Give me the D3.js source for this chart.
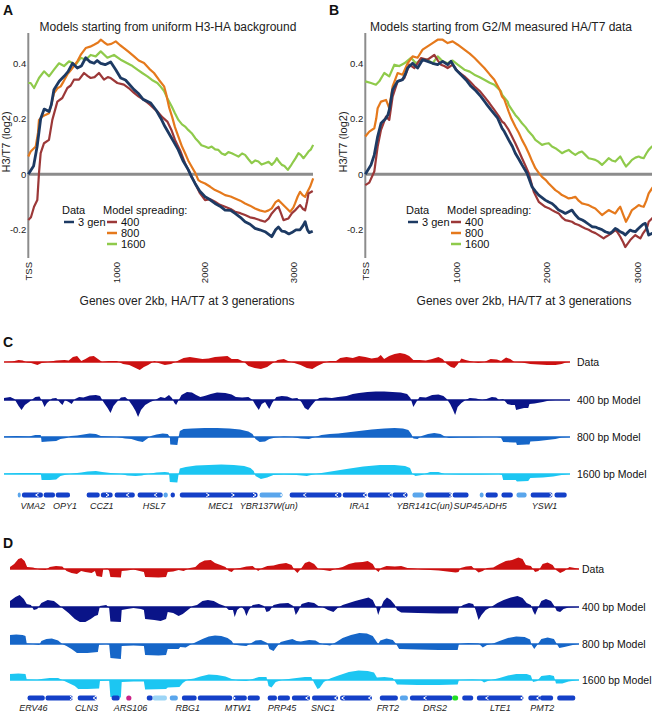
<!DOCTYPE html>
<html><head><meta charset="utf-8">
<script src="https://cdn.jsdelivr.net/npm/d3@7"></script>
<style>body{margin:0;background:#fff} svg{display:block;font-family:"Liberation Sans",Arial,sans-serif}</style>
</head><body><svg id="c" width="652" height="714"></svg>
<script>
// ---------- Panels A/B: profile data ([position from TSS (bp), H3/T7 log2]) ----------
const A_data=[[0,0],[60,0.03],[100,0.1],[140,0.2],[180,0.235],[235,0.226],[260,0.25],[290,0.305],[350,0.335],[405,0.353],[450,0.37],[500,0.40],[555,0.383],[600,0.39],[650,0.42],[700,0.405],[745,0.40],[780,0.41],[820,0.40],[870,0.395],[933,0.405],[990,0.377],[1046,0.347],[1100,0.34],[1197,0.305],[1250,0.29],[1300,0.27],[1386,0.257],[1450,0.23],[1500,0.202],[1547,0.172],[1612,0.136],[1650,0.115],[1698,0.088],[1750,0.05],[1812,0.016],[1850,-0.01],[1888,-0.033],[1940,-0.06],[2001,-0.081],[2050,-0.09],[2114,-0.105],[2170,-0.115],[2228,-0.129],[2290,-0.13],[2341,-0.141],[2400,-0.155],[2454,-0.171],[2510,-0.18],[2567,-0.195],[2620,-0.2],[2680,-0.207],[2756,-0.225],[2800,-0.2],[2832,-0.19],[2870,-0.205],[2907,-0.207],[2950,-0.215],[2983,-0.21],[3030,-0.2],[3077,-0.2],[3110,-0.185],[3134,-0.171],[3160,-0.2],[3179,-0.21],[3220,-0.205]];
const A_m400=[[0,-0.165],[30,-0.155],[65,-0.117],[102,-0.093],[121,0.004],[140,0.076],[178,0.112],[234,0.124],[272,0.196],[329,0.262],[385,0.275],[442,0.311],[480,0.32],[517,0.341],[574,0.341],[631,0.365],[670,0.355],[706,0.347],[750,0.35],[800,0.365],[857,0.341],[900,0.35],[933,0.347],[1008,0.329],[1083,0.323],[1140,0.31],[1197,0.293],[1250,0.28],[1310,0.268],[1380,0.25],[1461,0.226],[1520,0.205],[1574,0.19],[1620,0.16],[1661,0.124],[1720,0.085],[1774,0.04],[1820,0.01],[1868,-0.02],[1944,-0.069],[2001,-0.093],[2060,-0.09],[2114,-0.099],[2170,-0.11],[2228,-0.117],[2290,-0.125],[2341,-0.135],[2400,-0.14],[2454,-0.147],[2510,-0.155],[2567,-0.159],[2620,-0.165],[2680,-0.171],[2720,-0.16],[2756,-0.141],[2800,-0.125],[2832,-0.117],[2860,-0.14],[2889,-0.165],[2945,-0.159],[2985,-0.14],[3020,-0.13],[3050,-0.12],[3077,-0.111],[3110,-0.125],[3134,-0.13],[3155,-0.1],[3172,-0.069],[3220,-0.06]];
const A_m800=[[0,0.064],[27,0.082],[84,0.1],[110,0.15],[121,0.196],[159,0.208],[200,0.215],[234,0.22],[260,0.25],[291,0.293],[330,0.31],[367,0.317],[400,0.335],[442,0.36],[480,0.375],[517,0.39],[560,0.41],[593,0.43],[650,0.455],[700,0.46],[744,0.467],[790,0.475],[820,0.485],[860,0.475],[895,0.467],[940,0.47],[990,0.479],[1040,0.465],[1083,0.455],[1140,0.44],[1197,0.425],[1250,0.41],[1310,0.401],[1370,0.38],[1423,0.365],[1480,0.34],[1537,0.317],[1560,0.29],[1595,0.24],[1630,0.205],[1660,0.17],[1699,0.136],[1740,0.1],[1775,0.076],[1810,0.05],[1850,0.027],[1890,0.005],[1925,-0.021],[1960,-0.028],[2001,-0.033],[2060,-0.045],[2114,-0.057],[2170,-0.065],[2228,-0.075],[2290,-0.08],[2341,-0.087],[2400,-0.095],[2454,-0.105],[2510,-0.113],[2567,-0.123],[2620,-0.13],[2680,-0.135],[2720,-0.13],[2756,-0.123],[2800,-0.1],[2832,-0.093],[2870,-0.105],[2907,-0.117],[2964,-0.135],[3000,-0.12],[3020,-0.105],[3050,-0.08],[3077,-0.063],[3105,-0.075],[3134,-0.081],[3165,-0.06],[3190,-0.045],[3225,-0.015]];
const A_m1600=[[0,0.329],[27,0.329],[65,0.311],[121,0.347],[178,0.371],[234,0.353],[291,0.377],[348,0.4],[404,0.39],[461,0.407],[537,0.395],[593,0.42],[650,0.413],[706,0.43],[763,0.425],[820,0.443],[895,0.42],[970,0.43],[1046,0.413],[1121,0.4],[1180,0.39],[1235,0.377],[1290,0.365],[1348,0.353],[1400,0.34],[1461,0.329],[1500,0.315],[1537,0.3],[1580,0.27],[1624,0.244],[1660,0.22],[1699,0.196],[1740,0.18],[1775,0.172],[1810,0.16],[1850,0.148],[1890,0.13],[1925,0.118],[1960,0.105],[2001,0.1],[2040,0.095],[2076,0.1],[2115,0.09],[2152,0.088],[2190,0.075],[2228,0.07],[2265,0.08],[2303,0.076],[2340,0.07],[2379,0.064],[2420,0.075],[2454,0.07],[2490,0.055],[2530,0.04],[2570,0.05],[2605,0.046],[2640,0.035],[2680,0.04],[2720,0.045],[2756,0.034],[2790,0.045],[2813,0.058],[2840,0.045],[2870,0.034],[2900,0.03],[2938,0.016],[2970,0.03],[3001,0.046],[3030,0.06],[3058,0.076],[3085,0.07],[3115,0.058],[3145,0.07],[3172,0.082],[3200,0.09],[3225,0.106]];

const B_data=[[0,0],[63,0.034],[99,0.07],[136,0.136],[173,0.184],[228,0.202],[250,0.215],[264,0.232],[301,0.305],[356,0.335],[411,0.341],[440,0.36],[466,0.383],[521,0.40],[576,0.383],[631,0.413],[686,0.407],[741,0.40],[797,0.395],[852,0.407],[907,0.395],[944,0.407],[999,0.377],[1054,0.359],[1110,0.34],[1164,0.317],[1220,0.3],[1274,0.28],[1330,0.255],[1384,0.232],[1458,0.202],[1506,0.166],[1531,0.154],[1579,0.124],[1620,0.1],[1652,0.076],[1690,0.055],[1726,0.034],[1781,0.004],[1836,-0.045],[1870,-0.06],[1910,-0.075],[1950,-0.085],[1982,-0.093],[2020,-0.1],[2056,-0.105],[2090,-0.115],[2130,-0.129],[2170,-0.135],[2203,-0.141],[2240,-0.135],[2276,-0.129],[2310,-0.145],[2350,-0.159],[2390,-0.165],[2423,-0.171],[2460,-0.18],[2497,-0.189],[2535,-0.19],[2570,-0.195],[2610,-0.2],[2643,-0.207],[2698,-0.213],[2725,-0.205],[2753,-0.195],[2780,-0.2],[2808,-0.207],[2840,-0.212],[2863,-0.219],[2890,-0.21],[2918,-0.201],[2945,-0.205],[2974,-0.207],[3000,-0.198],[3029,-0.189],[3060,-0.18],[3084,-0.177],[3105,-0.2],[3121,-0.219],[3157,-0.213],[3200,-0.21]];
const B_m400=[[0,-0.039],[44,-0.03],[99,0.01],[136,0.1],[173,0.16],[228,0.208],[264,0.196],[301,0.28],[356,0.335],[400,0.34],[430,0.347],[485,0.395],[540,0.383],[613,0.419],[686,0.413],[760,0.43],[800,0.41],[833,0.395],[870,0.39],[907,0.383],[962,0.395],[1018,0.371],[1091,0.353],[1150,0.335],[1201,0.317],[1260,0.3],[1311,0.28],[1370,0.255],[1421,0.232],[1470,0.21],[1506,0.19],[1531,0.184],[1579,0.16],[1610,0.14],[1652,0.112],[1690,0.085],[1726,0.058],[1765,0.03],[1800,0.004],[1855,-0.063],[1910,-0.099],[1982,-0.117],[2020,-0.122],[2056,-0.129],[2090,-0.135],[2130,-0.141],[2165,-0.155],[2203,-0.165],[2240,-0.168],[2276,-0.171],[2310,-0.178],[2350,-0.183],[2390,-0.19],[2423,-0.195],[2460,-0.2],[2497,-0.207],[2535,-0.212],[2570,-0.219],[2625,-0.231],[2650,-0.225],[2680,-0.219],[2720,-0.21],[2753,-0.201],[2780,-0.21],[2808,-0.225],[2840,-0.245],[2863,-0.262],[2890,-0.25],[2918,-0.237],[2945,-0.228],[2974,-0.219],[3000,-0.225],[3029,-0.231],[3055,-0.215],[3084,-0.201],[3105,-0.19],[3121,-0.171],[3157,-0.159],[3200,-0.15]];
const B_m800=[[0,0.136],[44,0.154],[99,0.166],[120,0.2],[136,0.238],[173,0.262],[228,0.268],[250,0.25],[264,0.238],[301,0.317],[356,0.365],[411,0.359],[466,0.40],[521,0.425],[576,0.42],[631,0.449],[686,0.461],[741,0.473],[797,0.485],[852,0.485],[907,0.473],[962,0.479],[1018,0.467],[1091,0.449],[1150,0.435],[1201,0.42],[1260,0.4],[1311,0.383],[1370,0.36],[1421,0.341],[1480,0.305],[1506,0.28],[1531,0.27],[1579,0.226],[1610,0.2],[1652,0.172],[1690,0.15],[1726,0.124],[1765,0.1],[1800,0.076],[1840,0.045],[1873,0.022],[1910,0.005],[1946,-0.009],[1985,-0.02],[2020,-0.033],[2056,-0.045],[2093,-0.057],[2130,-0.065],[2166,-0.075],[2200,-0.08],[2240,-0.087],[2276,-0.085],[2313,-0.081],[2350,-0.095],[2386,-0.105],[2423,-0.108],[2460,-0.111],[2497,-0.118],[2533,-0.123],[2570,-0.135],[2607,-0.147],[2643,-0.138],[2680,-0.129],[2715,-0.135],[2753,-0.141],[2780,-0.128],[2808,-0.117],[2840,-0.145],[2871,-0.171],[2905,-0.15],[2937,-0.129],[2975,-0.12],[3011,-0.111],[3040,-0.115],[3066,-0.117],[3095,-0.095],[3121,-0.069],[3157,-0.051],[3200,-0.03]];
const B_m1600=[[0,0.335],[63,0.329],[117,0.323],[154,0.335],[209,0.365],[264,0.353],[320,0.395],[375,0.39],[430,0.40],[503,0.42],[558,0.40],[613,0.413],[686,0.413],[741,0.40],[797,0.425],[852,0.407],[907,0.40],[962,0.41],[1018,0.395],[1091,0.377],[1150,0.37],[1201,0.359],[1260,0.35],[1311,0.341],[1370,0.33],[1421,0.323],[1494,0.299],[1506,0.287],[1568,0.262],[1579,0.25],[1615,0.232],[1652,0.214],[1690,0.2],[1726,0.184],[1765,0.17],[1800,0.154],[1840,0.14],[1873,0.124],[1910,0.115],[1946,0.106],[1985,0.11],[2020,0.112],[2056,0.1],[2093,0.094],[2130,0.085],[2166,0.076],[2200,0.082],[2240,0.088],[2276,0.078],[2313,0.07],[2350,0.078],[2386,0.082],[2423,0.07],[2460,0.058],[2497,0.055],[2533,0.052],[2570,0.045],[2607,0.034],[2643,0.045],[2680,0.058],[2715,0.05],[2753,0.046],[2780,0.055],[2808,0.064],[2840,0.045],[2871,0.028],[2905,0.04],[2937,0.052],[2975,0.06],[3011,0.064],[3040,0.06],[3066,0.058],[3095,0.075],[3121,0.088],[3157,0.1],[3200,0.11]];

const profTitles=["Models starting from uniform H3-HA background","Models starting from G2/M measured HA/T7 data"];
const yTickVals=[-0.2,0,0.2,0.4];
const yTickLabels=["-0.2","0","0.2","0.4"];
const xTickVals=[0,1000,2000,3000];
const xTickLabels=["TSS","1000","2000","3000"];
const seriesLabels=["3 gen","400","800","1600"];

// ---------- Panels C/D: tracks ([genomic position (a.u.), log ratio]) ----------
const C_data=[[10,0],[30,0.05],[45,0.2],[55,0.15],[65,-0.05],[75,-0.1],[90,-0.3],[100,-0.1],[115,0],[135,0.15],[155,0.2],[165,0.15],[175,0.5],[185,0.6],[195,0.1],[205,0.3],[215,0.55],[225,0.6],[235,0.3],[245,0],[260,0.1],[280,0.1],[295,-0.2],[310,-0.3],[325,-0.6],[335,-0.8],[345,-0.5],[355,-0.3],[370,0.1],[380,-0.1],[395,-0.3],[410,-0.2],[425,0.1],[440,0.4],[455,0.5],[470,0.4],[485,0.3],[500,0.35],[515,0.5],[530,0.55],[545,0.6],[555,0.3],[570,0.3],[585,0],[595,-0.4],[610,-0.6],[625,-0.7],[640,-0.5],[650,-0.2],[665,0.2],[680,0.3],[690,0.1],[705,-0.1],[720,-0.3],[735,-0.6],[748,-0.7],[760,-0.4],[775,-0.1],[790,0.1],[805,0.1],[815,0.4],[830,0.5],[845,0.4],[860,0.6],[875,0.5],[890,0.35],[905,0.45],[912,0.7],[920,0.3],[932,0.6],[945,0.8],[958,0.9],[970,0.8],[980,0.6],[990,0.2],[1005,0.2],[1020,0.15],[1035,0.3],[1050,0.5],[1060,0.3],[1070,-0.2],[1080,-0.5],[1088,-0.6],[1095,-0.3],[1105,0.35],[1115,0.2],[1130,0.05],[1145,-0.1],[1160,0],[1175,0.3],[1190,0.25],[1200,0.1],[1212,0.45],[1222,0.3],[1232,0],[1250,-0.05],[1270,-0.2],[1290,-0.25],[1310,-0.3],[1330,-0.3],[1345,-0.2],[1355,-0.05],[1365,0]];
const C_m400=[[10,0.2],[25,0.3],[35,0.1],[45,-0.6],[52,-1.0],[60,-0.5],[70,-0.2],[85,0.3],[95,0.35],[102,-0.2],[107,-0.7],[113,-0.3],[125,0.15],[135,0.2],[145,-0.3],[150,-0.5],[156,0],[165,-0.2],[172,-0.4],[180,0.1],[190,0.3],[200,0.25],[215,0.45],[230,0.5],[240,0.4],[248,-0.2],[258,-0.8],[265,-1.3],[272,-0.6],[280,-0.2],[290,0.25],[300,0.3],[308,0],[318,-0.6],[325,-1.1],[331,-1.7],[338,-1.0],[348,-0.5],[360,-0.2],[372,0],[385,0.3],[395,0.2],[405,0.5],[412,0.2],[418,-0.3],[422,-0.5],[427,-0.1],[435,0.5],[448,0.8],[460,0.75],[470,0.5],[480,0.3],[490,0.4],[505,0.6],[520,0.75],[540,0.7],[555,0.55],[565,0.3],[580,0.25],[595,0.3],[605,0],[612,-0.5],[620,-1.0],[627,-0.4],[635,-0.2],[645,-0.9],[652,-0.3],[662,0.3],[675,0.4],[688,0.35],[700,0.15],[712,0.2],[722,-0.2],[730,-0.8],[738,-1.0],[745,-0.6],[755,-0.1],[765,0.2],[780,0.25],[795,0.2],[810,0.3],[830,0.4],[845,0.6],[860,0.7],[880,0.8],[900,0.85],[920,0.85],[940,0.8],[960,0.75],[975,0.6],[983,0.2],[990,-0.7],[997,-0.2],[1005,0.3],[1020,0.25],[1035,0.5],[1050,0.55],[1062,0.4],[1070,0.1],[1078,-0.4],[1085,-1.0],[1090,-1.5],[1096,-0.7],[1105,-0.3],[1115,0],[1125,0.2],[1140,0.15],[1155,0],[1165,0.1],[1178,0.3],[1188,0.25],[1195,0],[1205,0.1],[1215,-0.4],[1225,-0.5],[1233,-0.5],[1236,-1.0],[1245,-0.9],[1255,-0.8],[1265,-0.8],[1268,-0.4],[1280,-0.35],[1300,-0.2],[1315,-0.05],[1330,0],[1365,0]];
const C_m800=[[10,0.05],[40,0.1],[70,0.05],[85,0.2],[98,0.2],[100,-0.5],[115,-0.45],[135,-0.4],[145,-0.2],[160,-0.1],[170,0.1],[185,0.15],[200,0.25],[215,0.35],[230,0.3],[242,0.1],[260,0.05],[280,0],[300,-0.15],[315,-0.2],[330,-0.4],[342,-0.5],[352,-0.2],[362,0.1],[375,0.25],[390,0.35],[402,0.3],[407,0],[408,-0.75],[425,-0.8],[428,0],[431,0.6],[440,0.8],[460,0.85],[490,0.9],[520,0.9],[550,0.85],[575,0.75],[595,0.55],[605,0.3],[612,-0.2],[622,-0.5],[635,-0.45],[645,-0.2],[660,-0.05],[680,0.05],[700,0],[720,-0.15],[740,-0.2],[755,0],[770,0.2],[790,0.3],[810,0.35],[830,0.45],[860,0.6],[890,0.75],[920,0.85],[945,0.9],[965,0.85],[978,0.7],[985,0.3],[990,-0.15],[1000,-0.2],[1010,0.1],[1025,0.3],[1040,0.4],[1055,0.3],[1065,0.05],[1075,-0.1],[1100,-0.05],[1130,-0.05],[1160,0],[1190,0],[1200,-0.1],[1205,-0.5],[1230,-0.55],[1236,-0.55],[1238,-0.8],[1262,-0.75],[1268,-0.75],[1270,-0.45],[1290,-0.4],[1310,-0.3],[1330,-0.2],[1345,-0.05],[1365,0]];
const C_m1600=[[10,0.05],[50,0.1],[90,0.1],[98,0.1],[100,-0.6],[120,-0.6],[135,-0.55],[145,-0.2],[160,-0.05],[175,0.05],[195,0.15],[210,0.25],[230,0.3],[245,0.2],[265,0.1],[290,0],[305,-0.15],[325,-0.2],[340,-0.15],[355,0],[375,0.15],[395,0.2],[405,0.15],[407,-0.8],[425,-0.85],[428,0],[431,0.55],[445,0.7],[470,0.85],[500,0.9],[530,0.95],[560,0.9],[585,0.8],[600,0.6],[608,0.3],[612,-0.2],[625,-0.5],[640,-0.35],[655,-0.1],[680,-0.05],[710,-0.1],[735,-0.2],[750,-0.05],[770,0.1],[800,0.3],[830,0.5],[870,0.75],[910,0.9],[945,0.9],[970,0.8],[982,0.6],[988,0],[995,-0.2],[1010,-0.1],[1030,0.2],[1050,0.2],[1065,0],[1100,-0.05],[1150,-0.05],[1195,0],[1202,-0.1],[1205,-0.6],[1235,-0.6],[1238,-0.75],[1265,-0.7],[1270,-0.4],[1300,-0.35],[1325,-0.25],[1345,-0.1],[1365,0]];

const D_data=[[25,0.2],[35,0.5],[45,1.0],[52,1.1],[60,0.8],[66,0.2],[80,0.15],[95,-0.05],[110,-0.1],[120,0.2],[135,0.3],[150,0.25],[160,-0.2],[172,-0.4],[185,-0.5],[195,-0.2],[205,-0.3],[220,-0.4],[228,-0.2],[232,-0.7],[245,-0.8],[248,0],[258,0.05],[262,-0.2],[265,-0.8],[290,-0.85],[292,-0.2],[305,-0.15],[320,-0.05],[335,-0.2],[345,-0.3],[348,-0.8],[380,-0.85],[398,-0.8],[402,-0.3],[415,-0.25],[428,-0.1],[440,-0.2],[455,0.1],[468,0.2],[478,0.6],[490,0.85],[505,0.9],[515,0.6],[528,0.4],[540,0.2],[548,-0.2],[555,-0.3],[562,0],[575,0.1],[590,0.25],[605,0.3],[618,-0.2],[628,0.1],[640,0.3],[655,0.35],[668,0.5],[685,0.6],[698,0.4],[705,-0.1],[712,-0.4],[720,0],[730,0.6],[740,0.75],[752,0.5],[762,0],[775,-0.1],[790,-0.2],[805,0.05],[820,0.2],[835,0.5],[850,0.65],[868,0.7],[880,0.8],[892,0.5],[900,-0.1],[906,-0.3],[912,0.1],[925,0.3],[945,0.25],[960,0.3],[975,0.1],[990,0.05],[1010,-0.05],[1030,-0.1],[1050,-0.15],[1070,-0.25],[1090,-0.35],[1097,-0.3],[1102,0.1],[1115,0.25],[1128,0.3],[1135,0],[1145,-0.35],[1155,-0.2],[1165,0.1],[1180,0.15],[1195,0.5],[1210,0.8],[1225,0.9],[1240,1.15],[1250,1.0],[1258,0.4],[1270,0.3],[1280,-0.3],[1288,-0.2],[1298,0.5],[1310,0.65],[1322,0.4],[1330,-0.1],[1340,-0.4],[1350,-0.2],[1362,0.2],[1375,0.1],[1385,0]];
const D_m400=[[25,0.6],[38,1.0],[48,1.2],[58,0.8],[65,0.3],[75,0.2],[82,-0.3],[90,-0.2],[100,0.4],[115,0.7],[130,0.6],[142,0.2],[150,-0.1],[165,-0.6],[180,-1.2],[192,-1.5],[205,-1.5],[218,-1.2],[228,-0.9],[235,-0.8],[240,0.1],[255,0.2],[262,-0.1],[265,-1.45],[290,-1.5],[292,-0.3],[305,-0.2],[320,-0.1],[338,-0.2],[345,-0.3],[348,-1.2],[370,-1.3],[385,-1.4],[398,-1.2],[402,-0.5],[415,-0.6],[428,-0.9],[438,-0.7],[450,-0.3],[462,0.1],[472,0.2],[485,0.6],[498,0.7],[512,0.6],[525,0.3],[538,0.1],[548,-0.3],[558,-0.3],[562,-1.0],[568,-0.3],[578,0.05],[585,-0.3],[590,-0.9],[596,-0.3],[605,0.2],[620,0.3],[632,0.1],[638,-0.5],[645,-0.4],[655,0.2],[670,0.35],[690,0.4],[702,0.1],[708,-0.8],[714,-0.4],[722,0.3],[738,0.5],[752,0.4],[762,0.1],[772,0],[785,-0.3],[798,-0.5],[808,-0.1],[820,0.2],[835,0.4],[850,0.6],[868,0.8],[882,0.95],[892,0.7],[900,0],[905,-0.8],[910,-0.2],[918,0.6],[926,0.95],[935,0.7],[945,0.2],[950,-0.3],[960,-0.55],[1000,-0.6],[1050,-0.65],[1095,-0.65],[1098,-0.1],[1108,0.2],[1122,0.4],[1132,0.3],[1138,-0.3],[1145,-1.3],[1152,-0.8],[1162,-0.3],[1175,0],[1190,0.4],[1205,0.7],[1222,0.95],[1238,1.1],[1250,0.9],[1260,0.4],[1270,0.2],[1275,-0.4],[1280,-0.8],[1286,-0.2],[1295,0.6],[1306,0.8],[1318,0.6],[1326,0.1],[1332,-0.4],[1340,-0.5],[1348,-0.2],[1360,-0.05],[1385,0]];
const D_m800=[[25,0.9],[40,0.95],[55,0.9],[62,0.8],[65,0.05],[80,0],[95,-0.1],[100,0.3],[112,0.5],[125,0.55],[140,0.35],[150,0],[160,-0.2],[172,-0.5],[182,-0.8],[185,-0.9],[210,-0.9],[235,-0.8],[238,-0.05],[255,0],[262,-0.05],[265,-1.4],[290,-1.5],[292,-0.2],[320,-0.15],[345,-0.2],[348,-1.1],[380,-1.15],[398,-1.1],[402,-0.5],[428,-0.5],[432,-0.3],[445,-0.35],[455,-0.1],[470,0.2],[485,0.5],[500,0.75],[515,0.85],[530,0.8],[545,0.6],[555,0.3],[560,-0.05],[575,-0.15],[590,-0.2],[600,0.05],[612,0.35],[625,0.4],[640,0.1],[645,-0.5],[655,-0.7],[662,-0.3],[672,0.2],[685,0.35],[700,0.5],[710,0.3],[720,0.25],[740,0.4],[755,0.35],[765,0.1],[775,-0.05],[790,-0.15],[805,0.2],[820,0.6],[840,0.9],[860,1.1],[878,1.05],[892,0.8],[900,0.3],[905,0],[910,0.35],[925,0.55],[940,0.4],[948,0],[955,-0.5],[1000,-0.55],[1050,-0.6],[1095,-0.6],[1098,0],[1120,0.1],[1145,0.05],[1155,-0.35],[1165,-0.1],[1180,0.05],[1195,0.3],[1215,0.6],[1235,0.75],[1255,0.7],[1268,0.45],[1272,-0.1],[1278,-0.5],[1285,-0.1],[1295,0.5],[1310,0.65],[1325,0.5],[1332,0],[1338,-0.4],[1350,-0.3],[1370,-0.1],[1385,0]];
const D_m1600=[[25,0.6],[45,0.65],[62,0.6],[65,0.05],[90,0],[100,0.1],[120,0.2],[140,0.2],[150,0],[165,-0.3],[180,-0.6],[188,-0.9],[210,-0.9],[238,-0.85],[240,-0.1],[262,-0.05],[265,-1.7],[290,-1.75],[292,-0.2],[320,-0.15],[345,-0.15],[348,-0.95],[398,-0.9],[402,-0.75],[430,-0.7],[438,-0.3],[450,0.05],[465,0.15],[480,0.35],[500,0.55],[520,0.5],[540,0.35],[555,0.1],[570,-0.05],[590,-0.1],[605,0.1],[620,0.3],[638,0.3],[643,-0.6],[650,-0.75],[660,-0.2],[675,0],[700,0.15],[730,0.3],[745,0.3],[752,-0.3],[760,-0.9],[765,-0.8],[775,-0.2],[790,0.15],[810,0.45],[835,0.8],[858,0.95],[880,0.9],[895,0.75],[902,0.25],[920,0.3],[940,0.2],[950,-0.45],[1000,-0.5],[1050,-0.5],[1095,-0.45],[1098,0],[1130,0.05],[1150,0],[1158,-0.25],[1170,-0.05],[1195,0.2],[1215,0.45],[1235,0.6],[1260,0.6],[1270,0.45],[1275,-0.2],[1285,-0.1],[1295,0.4],[1315,0.5],[1325,0.4],[1330,-0.35],[1345,-0.35],[1360,-0.15],[1385,0]];
const trackNames=["Data","400 bp Model","800 bp Model","1600 bp Model"];

// gene annotations [start, end, kind]
const C_genes=[[43,50,'l'],[53,103,'d'],[105,132,'d'],[134,168,'d'],[208,239,'d'],[242,270,'d'],[275,323,'d'],[330,390,'d'],[392,402,'l'],[409,419,'d'],[431,617,'d'],[622,677,'l'],[694,818,'d'],[821,878,'d'],[881,938,'d'],[940,976,'d'],[988,1015,'l'],[1019,1082,'d'],[1084,1122,'d'],[1149,1158,'l'],[1163,1192,'d'],[1201,1228,'d'],[1237,1261,'l'],[1271,1323,'d'],[1328,1357,'d']];
const C_arrows=[[89,'<'],[258,'>'],[306,'<'],[373,'<'],[498,'>'],[558,'>'],[610,'>'],[675,'<'],[730,'<'],[806,'<'],[873,'<'],[933,'<'],[969,'<'],[1080,'>'],[1320,'>']];
const C_geneNames=["VMA2","OPY1","CCZ1","HSL7","MEC1","YBR137W(un)","IRA1","YBR141C(un)","SUP45","ADH5","YSW1"];
const C_geneNamePos=[79,156,244,369,529,644,861,1017,1120,1185,1304];
const D_genes=[[67,108,'d'],[110,175,'d'],[187,232,'d'],[268,287,'d'],[305,313,'m'],[352,366,'d'],[366,400,'p'],[407,426,'l'],[436,471,'d'],[474,556,'d'],[558,591,'d'],[593,622,'d'],[641,663,'d'],[665,694,'d'],[699,742,'d'],[747,809,'d'],[814,890,'d'],[909,952,'d'],[957,976,'l'],[981,1082,'d'],[1082,1096,'g'],[1106,1132,'d'],[1141,1252,'d'],[1264,1292,'d'],[1292,1323,'d'],[1333,1376,'d']];
const D_arrows=[[172,'>'],[227,'<'],[560,'>'],[735,'<'],[804,'<'],[821,'<'],[885,'<'],[1017,'<'],[1165,'<'],[1249,'<'],[1287,'<']];
const D_geneNames=["ERV46","CLN3","ARS106","RBG1","MTW1","PRP45","SNC1","FRT2","DRS2","LTE1","PMT2"];
const D_geneNamePos=[81,208,313,450,570,675,773,928,1041,1197,1297];

// ---------- drawing ----------
const svg=d3.select("#c");
const lineCols=["#1d3a63","#9c3838","#e5791c","#8fca4b"];
const lineW=[2.8,2.2,2.2,2.2];
const trackCols=["#cc1111","#0a1488","#1666c8","#1cc6f2"];
const geneCols={d:"#1440c8",l:"#5aa6ec",p:"#9cd5f6",m:"#cc2288",g:"#22dd22"};

function letter(x,y,t){svg.append("text").attr("x",x).attr("y",y).attr("font-size",14).attr("font-weight","bold").attr("fill","#111").text(t);}

function profile(o){
  const g=svg.append("g");
  const x=d3.scaleLinear().domain([0,3000]).range(o.xr);
  const y=d3.scaleLinear().domain([0,0.4]).range([174.3,63.3]);
  g.append("text").attr("x",o.tx).attr("y",31).attr("text-anchor","middle").attr("font-size",12).attr("fill","#222").text(o.title);
  g.append("line").attr("x1",o.xr[0]).attr("x2",o.xr[0]).attr("y1",33).attr("y2",258).attr("stroke","#8c8c8c").attr("stroke-width",2);
  yTickVals.forEach((v,i)=>g.append("text").attr("x",o.xr[0]-2).attr("y",y(v)).attr("dy","0.35em").attr("text-anchor","end").attr("font-size",9.5).attr("fill","#222").text(yTickLabels[i]));
  xTickVals.forEach((v,i)=>g.append("text").attr("transform",`translate(${x(v)+3.4},262) rotate(-90)`).attr("text-anchor","end").attr("font-size",9.5).attr("fill","#222").text(xTickLabels[i]));
  g.append("text").attr("transform",`translate(${o.xr[0]-18},142) rotate(-90)`).attr("text-anchor","middle").attr("font-size",11).attr("fill","#222").text("H3/T7 (log2)");
  g.append("text").attr("x",o.lx).attr("y",305).attr("text-anchor","middle").attr("font-size",12).attr("fill","#222").text("Genes over 2kb, HA/T7 at 3 generations");
  g.append("line").attr("x1",o.xr[0]).attr("x2",o.zEnd).attr("y1",y(0)).attr("y2",y(0)).attr("stroke","#8c8c8c").attr("stroke-width",3);
  const line=d3.line().x(d=>x(d[0])).y(d=>y(d[1]));
  [3,2,1,0].forEach(i=>g.append("path").datum(o.series[i]).attr("d",line).attr("fill","none").attr("stroke",lineCols[i]).attr("stroke-width",lineW[i]).attr("stroke-linejoin","round"));
  const L=o.leg;
  g.append("text").attr("x",L).attr("y",214).attr("font-size",11).attr("fill","#111").text("Data");
  g.append("text").attr("x",L+41).attr("y",214).attr("font-size",11).attr("fill","#111").text("Model spreading:");
  const rowY=[226,226,237,248];
  const lx=[L+2,L+45,L+45,L+45];
  seriesLabels.forEach((s,i)=>{
    g.append("line").attr("x1",lx[i]).attr("x2",lx[i]+10).attr("y1",rowY[i]-4).attr("y2",rowY[i]-4).attr("stroke",lineCols[i]).attr("stroke-width",2.5);
    g.append("text").attr("x",lx[i]+14).attr("y",rowY[i]).attr("font-size",11).attr("fill","#111").text(s);
  });
}

letter(3,15,"A");letter(329,15,"B");
profile({xr:[28.3,293.3],tx:168,lx:187,zEnd:313,leg:62,title:profTitles[0],series:[A_data,A_m400,A_m800,A_m1600]});
profile({xr:[365.3,637.7],tx:501,lx:524,zEnd:652,leg:406,title:profTitles[1],series:[B_data,B_m400,B_m800,B_m1600]});

function tracks(o){
  const g=svg.append("g");
  const x=d3.scaleLinear().domain(o.dom).range(o.rng);
  o.series.forEach((s,i)=>{
    const b=o.bases[i];
    const y=d3.scaleLinear().domain([-1,1]).range([b+10,b-10]);
    g.append("path").datum(s).attr("d",d3.area().x(d=>x(d[0])).y0(b).y1(d=>y(d[1]))).attr("fill",trackCols[i]);
    g.append("line").attr("x1",o.rng[0]).attr("x2",o.rng[1]).attr("y1",b).attr("y2",b).attr("stroke",trackCols[i]).attr("stroke-width",1.5);
    g.append("text").attr("x",o.labX).attr("y",b).attr("dy","0.35em").attr("font-size",10.5).attr("fill","#111").text(trackNames[i]);
  });
  const gy=o.geneY;
  o.genes.forEach(gn=>{
    if(gn[2]==='m'){g.append("circle").attr("cx",x((gn[0]+gn[1])/2)).attr("cy",gy).attr("r",2.6).attr("fill",geneCols.m);return;}
    g.append("rect").attr("x",x(gn[0])).attr("y",gy-2.6).attr("width",x(gn[1])-x(gn[0])).attr("height",5.2).attr("rx",2).attr("fill",geneCols[gn[2]]);
  });
  o.arrows.forEach(a=>{
    const ax=x(a[0]);
    const p=a[1]==='<'?`M${ax+1.6},${gy-1.8}L${ax-1.4},${gy}L${ax+1.6},${gy+1.8}`:`M${ax-1.6},${gy-1.8}L${ax+1.4},${gy}L${ax-1.6},${gy+1.8}`;
    g.append("path").attr("d",p).attr("fill","none").attr("stroke","#fff").attr("stroke-width",1);
  });
  o.names.forEach((n,i)=>g.append("text").attr("x",x(o.namePos[i])).attr("y",o.nameY).attr("text-anchor","middle").attr("font-size",9).attr("font-style","italic").attr("fill","#222").text(n));
}

letter(3,347,"C");letter(3,548,"D");
tracks({dom:[10,1365],rng:[4,570],labX:577,bases:[362,400,437,474],geneY:495,nameY:509,series:[C_data,C_m400,C_m800,C_m1600],genes:C_genes,arrows:C_arrows,names:C_geneNames,namePos:C_geneNamePos});
tracks({dom:[25,1385],rng:[10,579],labX:582,bases:[569,607,644,680],geneY:698,nameY:711,series:[D_data,D_m400,D_m800,D_m1600],genes:D_genes,arrows:D_arrows,names:D_geneNames,namePos:D_geneNamePos});
</script></body></html>
